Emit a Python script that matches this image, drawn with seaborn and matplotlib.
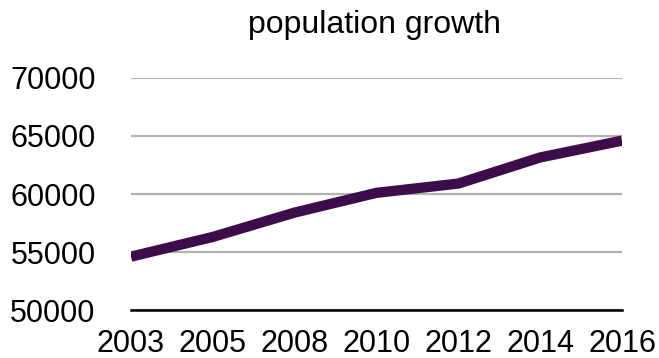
import matplotlib
matplotlib.use("Agg")
import matplotlib.pyplot as plt
import seaborn as sns
import pandas as pd

years = ["2003", "2005", "2008", "2010", "2012", "2014", "2016"]
population = [54600, 56300, 58400, 60100, 60900, 63150, 64600]
y_ticks = [50000, 55000, 60000, 65000, 70000]
title = "population growth"

sns.set_theme(style="white")
plt.rcParams["font.family"] = ["Liberation Sans", "DejaVu Sans"]

df = pd.DataFrame({"year": years, "population": population})

fig = plt.figure(figsize=(6.59, 3.58), dpi=100)
ax = fig.add_axes([131 / 659, 1 - 310 / 358, (622 - 131) / 659, (310 - 78) / 358])

sns.lineplot(data=df, x="year", y="population", sort=False, ax=ax,
             color="#3d0d4b", linewidth=7.4, solid_capstyle="butt", zorder=3)

ax.set_ylim(50000, 70000)
ax.set_xlim(0, len(years) - 1)
ax.set_yticks(y_ticks)
ax.set_yticklabels([str(v) for v in y_ticks])
ax.yaxis.grid(True, color="#b3b3b3", linewidth=1.6)
ax.xaxis.grid(False)
for s in ["top", "right", "left"]:
    ax.spines[s].set_visible(False)
ax.spines["bottom"].set_color("black")
ax.spines["bottom"].set_linewidth(1.8)
ax.spines["bottom"].set_zorder(4)
ax.tick_params(axis="both", length=0, labelsize=22, colors="black")
ax.tick_params(axis="y", pad=25.5)
ax.tick_params(axis="x", pad=14)
ax.set_xlabel("")
ax.set_ylabel("")
fig.text(375 / 659, 1 - 25 / 358, title, ha="center", va="center",
         fontsize=23, color="black")

fig.savefig("out.png", dpi=100)
